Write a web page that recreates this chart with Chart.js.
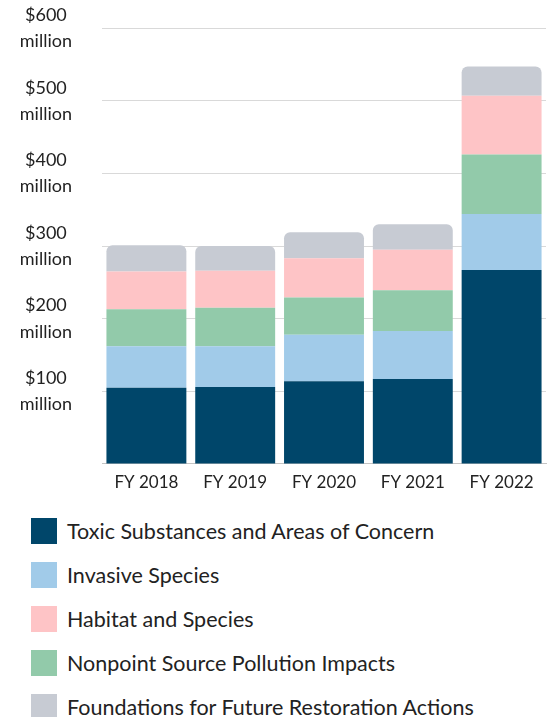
<!DOCTYPE html>
<html>
<head>
<meta charset="utf-8">
<script src="https://cdn.jsdelivr.net/npm/chart.js@4/dist/chart.umd.min.js"></script>
<style>
  html, body { margin: 0; padding: 0; background: #fff; }
  body { width: 552px; height: 717px; position: relative; font-family: Lato, sans-serif; overflow: hidden; }
  #wrap { position: absolute; left: 0; top: -28px; width: 552px; height: 535px; }
  #legend { position: absolute; left: 31px; top: 518px; margin: 0; padding: 0; list-style: none; }
  #legend li { display: flex; align-items: center; height: 26px; margin-bottom: 18px; color: #222; font-size: 21.5px; }
  #legend .box { width: 26px; height: 26px; margin-right: 10px; flex: none; }
</style>
</head>
<body>
<div id="wrap"><canvas id="chart"></canvas></div>
<ul id="legend"></ul>
<script>
// fiscal years, values in $ millions
const years = ['FY 2018', 'FY 2019', 'FY 2020', 'FY 2021', 'FY 2022'];

const toxic = [105, 106, 114, 117, 267];
const invasive = [57, 56, 64, 66, 77];
const nonpoint = [51, 53, 51, 56, 82];
const habitat = [52, 51, 54, 56, 81];
const foundations = [36, 34, 36, 35, 40];

const yTicks = [0, 100, 200, 300, 400, 500, 600];

// legend order is not the stacking order
const legendOrder = [
  'Toxic Substances and Areas of Concern',
  'Invasive Species',
  'Habitat and Species',
  'Nonpoint Source Pollution Impacts',
  'Foundations for Future Restoration Actions'
];

const datasets = [
  { label: 'Toxic Substances and Areas of Concern', data: toxic, backgroundColor: '#00466a' },
  { label: 'Invasive Species', data: invasive, backgroundColor: '#a1cbe9' },
  { label: 'Nonpoint Source Pollution Impacts', data: nonpoint, backgroundColor: '#92caaa' },
  { label: 'Habitat and Species', data: habitat, backgroundColor: '#fec4c6' },
  {
    label: 'Foundations for Future Restoration Actions', data: foundations, backgroundColor: '#c7cbd3',
    borderRadius: { topLeft: 6, topRight: 6, bottomLeft: 0, bottomRight: 0 }, borderSkipped: false
  }
];

const chart = new Chart(document.getElementById('chart'), {
  type: 'bar',
  data: {
    labels: years,
    datasets: datasets.map(d => Object.assign({ categoryPercentage: 1, barPercentage: 0.9, borderWidth: 0 }, d))
  },
  options: {
    responsive: true,
    maintainAspectRatio: false,
    animation: false,
    layout: { padding: { top: -24, right: 6, bottom: 0, left: 0 } },
    scales: {
      x: {
        stacked: true,
        grid: { display: false, drawTicks: false },
        border: { display: true, color: '#c4c4c4', width: 1 },
        ticks: { color: '#222', padding: 8, font: { family: 'Lato', size: 17 } }
      },
      y: {
        stacked: true,
        min: 0,
        max: 600,
        afterBuildTicks: (axis) => { axis.ticks = yTicks.map(v => ({ value: v })); },
        afterFit: (axis) => { axis.width = 102; },
        grid: { color: '#d9d9d9', drawTicks: false },
        border: { display: false },
        ticks: {
          color: '#222',
          padding: 30,
          crossAlign: 'center',
          font: { family: 'Lato', size: 18, lineHeight: 1.45 },
          callback: (v) => v === 0 ? '' : ['$' + v, 'million']
        }
      }
    },
    plugins: {
      legend: { display: false },
      tooltip: { enabled: false }
    }
  }
});

const legendEl = document.getElementById('legend');
legendOrder.forEach(name => {
  const ds = chart.data.datasets.find(d => d.label === name);
  const li = document.createElement('li');
  li.innerHTML = `<span class="box" style="background:${ds.backgroundColor}"></span><span>${ds.label}</span>`;
  legendEl.appendChild(li);
});
</script>
</body>
</html>
